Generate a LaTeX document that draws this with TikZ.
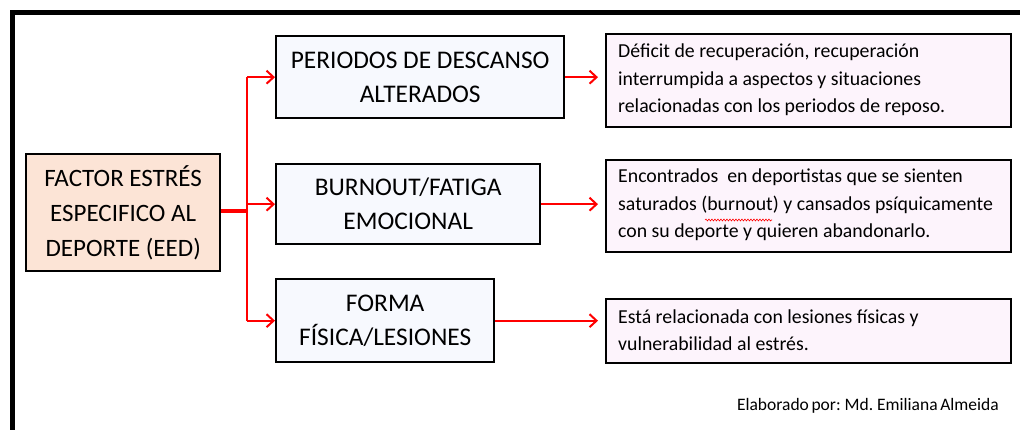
\documentclass[tikz,border=0pt]{standalone}
\usepackage{fontspec}
\setmainfont{Carlito}
\usetikzlibrary{arrows.meta,decorations.pathmorphing}
\definecolor{peach}{HTML}{FCE4D6}
\definecolor{midfill}{HTML}{F7F9FE}
\definecolor{rightfill}{HTML}{FDF4FC}
\definecolor{arrred}{HTML}{FF0000}
\begin{document}
\begin{tikzpicture}[x=1pt,y=-1pt,
  srcbox/.style={draw=black, line width=2.4pt, fill=peach, anchor=north west, align=center, inner sep=0pt,
    font=\fontsize{25}{35}\selectfont},
  midbox/.style={draw=black, line width=2.4pt, fill=midfill, anchor=north west, align=center, inner sep=0pt,
    font=\fontsize{25.4}{34}\selectfont},
  descbox/.style={draw=black, line width=2.4pt, fill=rightfill, anchor=north west, inner sep=0pt},
  desctext/.style={anchor=west, align=left, inner sep=0pt, font=\fontsize{19.8}{27.3}\selectfont},
  redline/.style={draw=arrred, line width=2pt},
  redarrow/.style={draw=arrred, line width=2pt, -{Straight Barb[length=7pt,width=13pt,line width=2pt]}},
]
\useasboundingbox (0,0) rectangle (1020,430);
\fill[white] (0,0) rectangle (1020,430);
% outer frame (top and left)
\draw[line width=5pt] (12,440) -- (12,13) -- (1030,13);

% source node
\node[srcbox, minimum width=194pt, minimum height=117pt] (src) at (25,153)
  {FACTOR ESTRÉS\\ESPECIFICO AL\\DEPORTE (EED)};

% middle nodes
\node[midbox, minimum width=288pt, minimum height=82pt] (m1) at (275,35)
  {PERIODOS DE DESCANSO\\ALTERADOS};
\node[midbox, minimum width=264pt, minimum height=80pt] (m2) at (275,163)
  {BURNOUT/FATIGA\\EMOCIONAL};
\node[midbox, minimum width=218pt, minimum height=83pt] (m3) at (275,278)
  {FORMA\\FÍSICA/LESIONES};

% description nodes
\node[descbox, minimum width=405pt, minimum height=93pt] (r1) at (605,33) {};
\node[desctext] (t1) at (618,80)
  {Déficit de recuperación, recuperación\\interrumpida a aspectos y situaciones\\relacionadas con los periodos de reposo.};
\node[descbox, minimum width=405pt, minimum height=92pt] (r2) at (605,159) {};
\node[desctext] (t2) at (618,205)
  {Encontrados\ \ en deportistas que se sienten\\saturados (burnout) y cansados psíquicamente\\con su deporte y quieren abandonarlo.};
\node[descbox, minimum width=405pt, minimum height=64pt] (r3) at (605,298) {};
\node[desctext] (t3) at (618,330)
  {Está relacionada con lesiones físicas y\\vulnerabilidad al estrés.};

% spell-check wavy underline
\draw[arrred, line width=0.6pt, decorate, decoration={snake, amplitude=0.9pt, segment length=3pt}] (705,220) -- (772,220);

% connectors
\coordinate (jn) at (247,211);
\draw[redline, line width=3.5pt] (src.east |- jn) -- (jn);
\draw[redline] (jn |- m1.west) -- (jn |- m3.west);
\draw[redarrow] (jn |- m1.west) -- (m1.west);
\draw[redarrow] (jn |- m2.west) -- (m2.west);
\draw[redarrow] (jn |- m3.west) -- (m3.west);
\draw[redarrow, shorten >=7pt] (m1.east) -- (m1.east -| r1.west);
\draw[redarrow, shorten >=7pt] (m2.east) -- (m2.east -| r2.west);
\draw[redarrow, shorten >=7pt] (m3.east) -- (m3.east -| r3.west);

% credit
\node[anchor=east, inner sep=0pt, font=\fontsize{17.5}{20}\selectfont] (cred) at (999,406)
  {\spaceskip 0.15em\relax Elaborado por: Md. Emiliana Almeida};
\end{tikzpicture}
\end{document}
